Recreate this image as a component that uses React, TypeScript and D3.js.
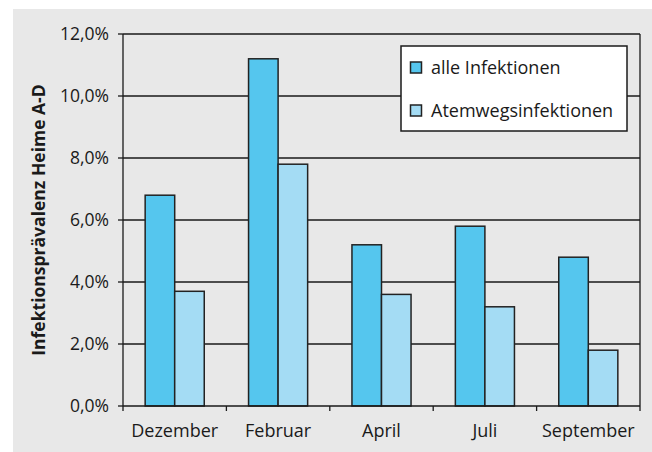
import React from "react";
import * as d3 from "d3";

const categories = ["Dezember", "Februar", "April", "Juli", "September"];
const seriesNames = ["alle Infektionen", "Atemwegsinfektionen"];
const alleInfektionen = [6.8, 11.2, 5.2, 5.8, 4.8];
const atemwegsinfektionen = [3.7, 7.8, 3.6, 3.2, 1.8];
const yTicks = [0, 2, 4, 6, 8, 10, 12];
const yTitle = "Infektionsprävalenz Heime A-D";

const W = 652, H = 452;
const M = { left: 123, right: 640, top: 34, bottom: 406 };
const colors = ["#55c6ee", "#a4dcf4"];
const FONT = "'Open Sans', sans-serif";

export default function App() {
  const x = d3.scaleBand<string>().domain(categories).range([M.left, M.right]).paddingInner(0).paddingOuter(0);
  const xi = d3.scaleBand<number>().domain([0, 1]).range([0, x.bandwidth()]).paddingInner(0).paddingOuter(0.75);
  const y = d3.scaleLinear().domain([0, 12]).range([M.bottom, M.top]);
  const series = [alleInfektionen, atemwegsinfektionen];
  const fmt = (v: number) => v.toFixed(1).replace(".", ",") + "%";
  const boundaries = categories.map((c) => x(c)!).concat([M.right]);

  return (
    <svg width={W} height={H} style={{ position: "absolute", left: 0, top: 0 }} fontFamily={FONT}>
      <rect x={0} y={0} width={W} height={H} fill="#ffffff" />
      <rect x={13} y={9} width={W - 13} height={H - 9} fill="#e8e8e8" />
      {yTicks.map((t) => (
        <g key={t}>
          {t > 0 && <line x1={M.left} x2={M.right} y1={y(t)} y2={y(t)} stroke="#1a1a1a" strokeWidth={1.3} />}
          <line x1={M.left - 5} x2={M.left} y1={y(t)} y2={y(t)} stroke="#1a1a1a" strokeWidth={1.3} />
          <text x={M.left - 14} y={y(t) + 6} textAnchor="end" fontSize={17.5} fill="#1a1a1a">{fmt(t)}</text>
        </g>
      ))}
      {series.map((vals, si) =>
        vals.map((v, ci) => (
          <rect
            key={si + "-" + ci}
            x={x(categories[ci])! + xi(si)!}
            y={y(v)}
            width={xi.bandwidth()}
            height={y(0) - y(v)}
            fill={colors[si]}
            stroke="#222"
            strokeWidth={1.5}
          />
        ))
      )}
      <line x1={M.left} x2={M.left} y1={M.top} y2={M.bottom} stroke="#1a1a1a" strokeWidth={1.3} />
      <line x1={M.right} x2={M.right} y1={M.top} y2={M.bottom} stroke="#1a1a1a" strokeWidth={1.3} />
      <line x1={M.left} x2={M.right} y1={M.bottom} y2={M.bottom} stroke="#1a1a1a" strokeWidth={1.3} />
      {boundaries.map((b, i) => (
        <line key={i} x1={b} x2={b} y1={M.bottom} y2={M.bottom + 5} stroke="#1a1a1a" strokeWidth={1.3} />
      ))}
      {categories.map((c) => (
        <text key={c} x={x(c)! + x.bandwidth() / 2} y={437} textAnchor="middle" fontSize={18} fill="#1a1a1a">{c}</text>
      ))}
      <text transform={`translate(45,${(M.top + M.bottom) / 2}) rotate(-90)`} textAnchor="middle" fontSize={17.5} fontWeight="bold" fill="#1a1a1a">{yTitle}</text>
      <g>
        <rect x={401} y={46} width={226} height={85} fill="#ffffff" stroke="#1a1a1a" strokeWidth={1.5} />
        {seriesNames.map((n, i) => (
          <g key={n}>
            <rect x={410.5} y={62 + i * 43} width={11} height={11} fill={colors[i]} stroke="#222" strokeWidth={1.5} />
            <text x={431} y={74 + i * 43} fontSize={18} fill="#1a1a1a">{n}</text>
          </g>
        ))}
      </g>
    </svg>
  );
}
